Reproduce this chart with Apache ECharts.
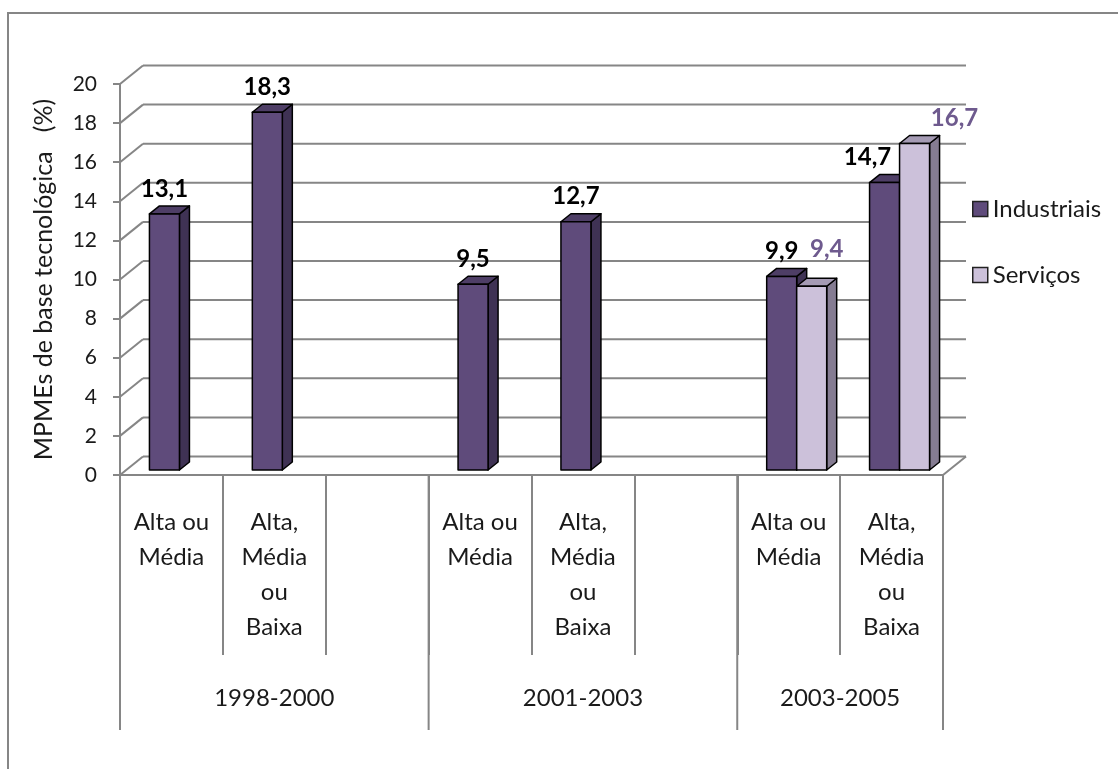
<!DOCTYPE html>
<html>
<head>
<meta charset="utf-8">
<script src="https://cdn.jsdelivr.net/npm/echarts@6/dist/echarts.min.js"></script>
<style>
  html, body { margin: 0; padding: 0; background: #fff; }
  #chart { width: 1118px; height: 769px; }
</style>
</head>
<body>
<div id="chart"></div>
<script>
// Technology-based SMEs (%) by period and technology level
const categories = [
  'Alta ou\nMédia', 'Alta,\nMédia\nou\nBaixa', '',
  'Alta ou\nMédia', 'Alta,\nMédia\nou\nBaixa', '',
  'Alta ou\nMédia', 'Alta,\nMédia\nou\nBaixa'
];
const periods = ['1998-2000', '2001-2003', '2003-2005'];
const periodSpans = [3, 3, 2];
const industriais = [13.1, 18.3, null, 9.5, 12.7, null, 9.9, 14.7];
const servicos = [null, null, null, null, null, null, 9.4, 16.7];
const yTicks = [0, 2, 4, 6, 8, 10, 12, 14, 16, 18, 20];

// oblique "3D" look: back wall offset, bar placement and depth
const DEPTH = [23, -18.5];
const BAR_W = 30;
const BAR_SHIFT = [8, -5];
const BAR_DEPTH = [10, -8];
const GRID_COLOR = '#868686';
const FONT = 'Lato';

const palette = [
  { front: '#5F4B7B', side: '#3F3254', top: '#4E3E66', label: '#000000' },
  { front: '#CCC1DA', side: '#857C92', top: '#A59BB4', label: '#6E5A8E' }
];
// label nudges where neighbouring labels would collide
const labelNudge = { '0-7': [-17, 0], '1-6': [15, -12], '1-7': [40, 0] };

const fmt = v => v.toFixed(1).replace('.', ',');

function toPoints(arr) {
  const out = [];
  arr.forEach((v, i) => { if (v != null) out.push([i, v]); });
  return out;
}

function barRenderer(seriesIdx) {
  const col = palette[seriesIdx];
  return function (params, api) {
    const i = api.value(0), v = api.value(1);
    const base = api.coord([i, 0]);
    const top = api.coord([i, v]);
    const x = base[0] + BAR_SHIFT[0] + (seriesIdx === 0 ? -BAR_W : 0);
    const yb = base[1] + BAR_SHIFT[1];
    const yt = top[1] + BAR_SHIFT[1];
    const dx = BAR_DEPTH[0], dy = BAR_DEPTH[1];
    const stroke = { stroke: '#000', lineWidth: 1.5, lineJoin: 'round' };
    const nudge = labelNudge[seriesIdx + '-' + i] || [0, 0];
    return {
      type: 'group',
      children: [
        { type: 'polygon', shape: { points: [[x + BAR_W, yt], [x + BAR_W + dx, yt + dy], [x + BAR_W + dx, yb + dy], [x + BAR_W, yb]] },
          style: Object.assign({ fill: col.side }, stroke) },
        { type: 'polygon', shape: { points: [[x, yt], [x + dx, yt + dy], [x + BAR_W + dx, yt + dy], [x + BAR_W, yt]] },
          style: Object.assign({ fill: col.top }, stroke) },
        { type: 'rect', shape: { x: x, y: yt, width: BAR_W, height: yb - yt },
          style: Object.assign({ fill: col.front }, stroke) },
        { type: 'text', style: {
            text: fmt(v), x: x + BAR_W / 2 + nudge[0], y: yt - 25 + nudge[1],
            fill: col.label, font: 'bold 24px ' + FONT, textAlign: 'center', textVerticalAlign: 'middle'
          } }
      ]
    };
  };
}

// back wall gridlines and the left side-wall diagonals
function wallRenderer(params, api) {
  const cs = params.coordSys;
  const y = api.coord([0, api.value(1)])[1];
  const line = { stroke: GRID_COLOR, lineWidth: 2 };
  return {
    type: 'group',
    children: [
      { type: 'line', shape: { x1: cs.x + DEPTH[0], y1: y + DEPTH[1], x2: cs.x + cs.width + DEPTH[0], y2: y + DEPTH[1] }, style: line },
      { type: 'line', shape: { x1: cs.x, y1: y, x2: cs.x + DEPTH[0], y2: y + DEPTH[1] }, style: line }
    ]
  };
}

// period separators and period labels under the category labels
const periodStarts = periodSpans.map((s, k) => periodSpans.slice(0, k).reduce((a, b) => a + b, 0));
function periodRenderer(params, api) {
  const k = params.dataIndex;
  const cs = params.coordSys;
  const band = api.size([1, 0])[0];
  const y0 = api.coord([0, 0])[1];
  const xs = cs.x + periodStarts[k] * band;
  const xe = xs + periodSpans[k] * band;
  const line = { stroke: GRID_COLOR, lineWidth: 2 };
  const children = [
    { type: 'line', shape: { x1: xs, y1: y0, x2: xs, y2: y0 + 255 }, style: line },
    { type: 'text', style: { text: periods[k], x: (xs + xe) / 2, y: y0 + 223, fill: '#1a1a1a',
        font: '24px ' + FONT, textAlign: 'center', textVerticalAlign: 'middle' } }
  ];
  if (k === periods.length - 1) {
    children.push({ type: 'line', shape: { x1: xe, y1: y0, x2: xe, y2: y0 + 255 }, style: line });
    children.push({ type: 'line', shape: { x1: xe, y1: y0, x2: xe + DEPTH[0], y2: y0 + DEPTH[1] }, style: line });
  }
  return { type: 'group', children: children };
}

const chart = echarts.init(document.getElementById('chart'), null, { renderer: 'canvas' });
chart.setOption({
  backgroundColor: '#ffffff',
  animation: false,
  textStyle: { fontFamily: FONT },
  graphic: [
    { type: 'rect', shape: { x: 8, y: 13, width: 1300, height: 900 },
      style: { fill: 'none', stroke: GRID_COLOR, lineWidth: 2 }, silent: true, z: -10 }
  ],
  grid: { left: 120, right: 175, top: 84, bottom: 294, containLabel: false },
  legend: {
    orient: 'vertical', left: 972, top: 197, padding: 0, itemWidth: 15, itemHeight: 15, itemGap: 42,
    icon: 'rect',
    textStyle: { fontSize: 24, color: '#1a1a1a', fontFamily: FONT },
    data: [
      { name: 'Industriais', itemStyle: { color: palette[0].front, borderColor: '#222', borderWidth: 1.5 } },
      { name: 'Serviços', itemStyle: { color: palette[1].front, borderColor: '#222', borderWidth: 1.5 } }
    ]
  },
  xAxis: {
    type: 'category',
    data: categories,
    axisLine: { show: true, lineStyle: { color: GRID_COLOR, width: 2 } },
    axisTick: { show: true, interval: 0, length: 180, lineStyle: { color: GRID_COLOR, width: 2 } },
    axisLabel: { interval: 0, margin: 30, fontSize: 24, lineHeight: 35, color: '#1a1a1a', fontFamily: FONT },
    splitLine: { show: false }
  },
  yAxis: {
    type: 'value', min: 0, max: 20, interval: 2,
    name: 'MPMEs de base tecnológica   (%)',
    nameLocation: 'middle', nameGap: 64, nameRotate: 90,
    nameTextStyle: { fontSize: 25, color: '#1a1a1a', fontFamily: FONT },
    axisLine: { show: true, lineStyle: { color: GRID_COLOR, width: 2 } },
    axisTick: { show: true, length: 7, lineStyle: { color: GRID_COLOR, width: 2 } },
    axisLabel: { margin: 23, fontSize: 21, color: '#1a1a1a', fontFamily: FONT },
    splitLine: { show: false }
  },
  series: [
    { type: 'custom', name: 'wall', renderItem: wallRenderer, data: yTicks.map(v => [0, v]),
      encode: { x: 0, y: 1 }, clip: false, silent: true, z: 1 },
    { type: 'custom', name: 'periods', renderItem: periodRenderer, data: periods.map((p, k) => [periodStarts[k], 0]),
      encode: { x: 0, y: 1 }, clip: false, silent: true, z: 1 },
    { type: 'custom', name: 'Industriais', renderItem: barRenderer(0), data: toPoints(industriais),
      encode: { x: 0, y: 1 }, clip: false, z: 3, itemStyle: { color: palette[0].front } },
    { type: 'custom', name: 'Serviços', renderItem: barRenderer(1), data: toPoints(servicos),
      encode: { x: 0, y: 1 }, clip: false, z: 4, itemStyle: { color: palette[1].front } }
  ]
});
</script>
</body>
</html>
